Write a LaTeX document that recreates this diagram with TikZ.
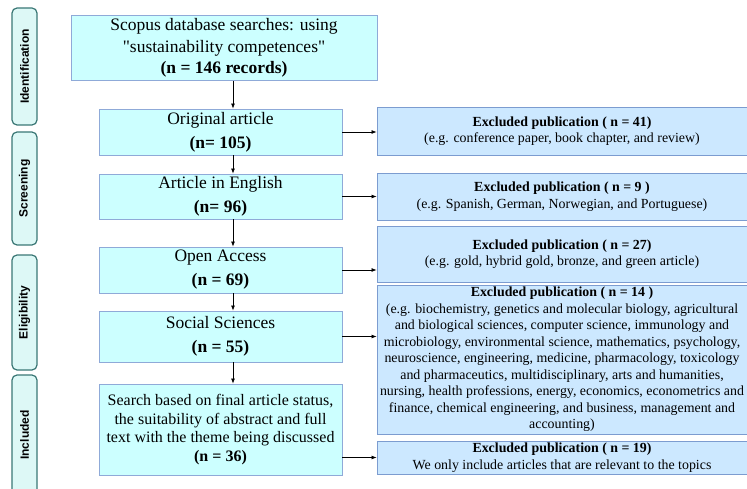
\documentclass[tikz,border=0pt]{standalone}
\usepackage{fontspec}
\setmainfont{Liberation Serif}[Ligatures=TeXOff]
\setsansfont{Liberation Sans}
\usetikzlibrary{arrows.meta}

\definecolor{mainfill}{HTML}{CCFFFF}
\definecolor{mainline}{HTML}{8FAAD8}
\definecolor{exclfill}{HTML}{CCE8FF}
\definecolor{exclline}{HTML}{7C9CD0}
\definecolor{phasefill}{HTML}{DDF8F6}
\definecolor{phaseline}{HTML}{3A7775}

\begin{document}
\begin{tikzpicture}[x=1pt, y=-1pt,
  mainbox/.style={draw=mainline, fill=mainfill, line width=0.9pt, align=center, inner sep=0pt,
    font=\fontsize{17.5}{24}\selectfont},
  exclbox/.style={draw=exclline, fill=exclfill, line width=0.9pt, align=center, inner sep=0pt,
    minimum width=370, font=\fontsize{13.9}{16.5}\selectfont},
  phase/.style={draw=phaseline, fill=phasefill, line width=1.2pt, rounded corners=5pt, rotate=90,
    minimum height=25, inner sep=0pt, font=\sffamily\bfseries\fontsize{12}{14}\selectfont},
  arr/.style={-{Latex[length=5pt,width=4pt]}, line width=0.7pt}]
\useasboundingbox (0,0) rectangle (747,489);

% Phases
\node[phase, minimum width=117] (ident) at (24.5,66.5) {Identification};
\node[phase, minimum width=113] (screen) at (24.5,188.5) {Screening};
\node[phase, minimum width=115] (elig) at (24.5,312.5) {Eligibility};
\node[phase, minimum width=120] (incl) at (24.5,435) {Included};

% Main flow
\node[mainbox, minimum width=306, minimum height=65, font=\fontsize{17.5}{21.5}\selectfont] (search) at (224,48)
  {Scopus database searches: using\\"sustainability competences"\\\textbf{(n = 146 records)}};
\node[mainbox, minimum width=243, minimum height=46] (orig) at (220.5,132)
  {Original article\\\textbf{(n= 105)}};
\node[mainbox, minimum width=243, minimum height=45] (eng) at (220.5,196.5)
  {Article in English\\\textbf{(n= 96)}};
\node[mainbox, minimum width=243, minimum height=46] (open) at (220.5,270)
  {Open Access\\\textbf{(n = 69)}};
\node[mainbox, minimum width=243, minimum height=51] (social) at (220.5,336.5)
  {Social Sciences\\\textbf{(n = 55)}};
\node[mainbox, minimum width=243, minimum height=91, font=\fontsize{16}{18.8}\selectfont] (final) at (220.5,429.5)
  {Search based on final article status,\\the suitability of abstract and full\\text with the theme being discussed\\\textbf{(n = 36)}};

% Exclusions
\node[exclbox, minimum height=48] (ex1) at (562,131)
  {\textbf{Excluded publication ( n = 41)}\\(e.g. conference paper, book chapter, and review)};
\node[exclbox, minimum height=47] (ex2) at (562,196.5)
  {\textbf{Excluded publication ( n = 9 )}\\(e.g. Spanish, German, Norwegian, and Portuguese)};
\node[exclbox, minimum height=56] (ex3) at (562,254)
  {\textbf{Excluded publication ( n = 27)}\\(e.g. gold, hybrid gold, bronze, and green article)};
\node[exclbox, minimum height=149] (ex4) at (562,359.5)
  {\textbf{Excluded publication ( n = 14 )}\\(e.g. biochemistry, genetics and molecular biology, agricultural\\and biological sciences, computer science, immunology and\\microbiology, environmental science, mathematics, psychology,\\neuroscience, engineering, medicine, pharmacology, toxicology\\and pharmaceutics, multidisciplinary, arts and humanities,\\nursing, health professions, energy, economics, econometrics and\\finance, chemical engineering, and business, management and\\accounting)};
\node[exclbox, minimum height=33] (ex5) at (562,457.5)
  {\textbf{Excluded publication ( n = 19)}\\We only include articles that are relevant to the topics};

% Arrows
\draw[arr] (search.south -| 233,0) -- (orig.north -| 233,0);
\draw[arr] (orig.south -| 233,0) -- (eng.north -| 233,0);
\draw[arr] (eng.south -| 233,0) -- (open.north -| 233,0);
\draw[arr] (open.south -| 233,0) -- (social.north -| 233,0);
\draw[arr] (social.south -| 233,0) -- (final.north -| 233,0);
\draw[arr] (orig.east) -- (orig.east -| ex1.west);
\draw[arr] (eng.east) -- (eng.east -| ex2.west);
\draw[arr] (open.east) -- (open.east -| ex3.west);
\draw[arr] (social.east) -- (social.east -| ex4.west);
\draw[arr] (final.east |- ex5.west) -- (ex5.west);
\end{tikzpicture}
\end{document}
